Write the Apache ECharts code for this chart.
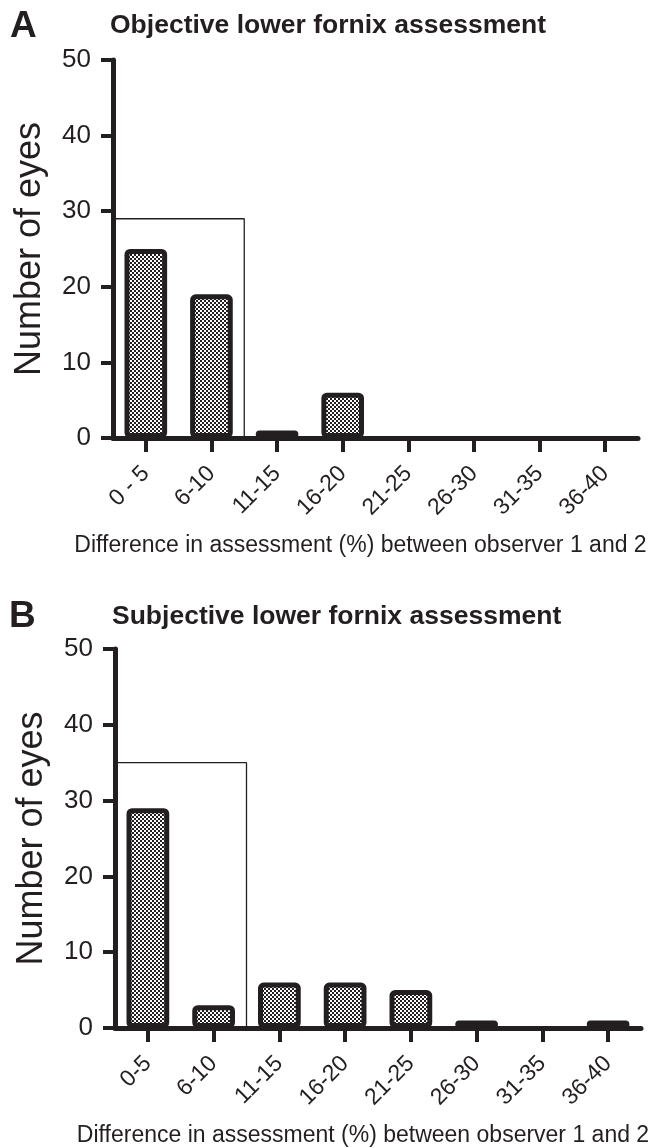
<!DOCTYPE html>
<html>
<head>
<meta charset="utf-8">
<script src="https://cdn.jsdelivr.net/npm/echarts@6/dist/echarts.min.js"></script>
<style>
  html, body { margin: 0; padding: 0; background: #ffffff; }
  #chart { width: 668px; height: 1148px; }
</style>
</head>
<body>
<div id="chart"></div>
<script>
// ---- data ----
const categoriesA = ['0 - 5', '6-10', '11-15', '16-20', '21-25', '26-30', '31-35', '36-40'];
const categoriesB = ['0-5', '6-10', '11-15', '16-20', '21-25', '26-30', '31-35', '36-40'];
const valuesA = [25, 19, 1, 6, 0, 0, 0, 0];
const valuesB = [29, 3, 6, 6, 5, 1, 0, 1];
const yTicks = [0, 10, 20, 30, 40, 50];
const boxHeightA = 29;   // outline box height (number of eyes), panel A
const boxHeightB = 35;   // outline box height, panel B
const boxSpan = 2;       // number of categories covered by the box
const titleA = 'Objective lower fornix assessment';
const titleB = 'Subjective lower fornix assessment';
const yName = 'Number of eyes';
const xName = 'Difference in assessment (%) between observer 1 and 2';

// ---- checker pattern ----
const pat = document.createElement('canvas');
pat.width = 4; pat.height = 4;
const pc = pat.getContext('2d');
pc.fillStyle = '#ffffff'; pc.fillRect(0, 0, 4, 4);
pc.fillStyle = '#231f20';
pc.fillRect(0, 0, 2, 2); pc.fillRect(2, 2, 2, 2);

const ink = '#231f20';
const font = "'Liberation Sans', Arial, sans-serif";

function boxPts(h) { return [[0, 0], [0, h], [boxSpan, h], [boxSpan, 0]]; }
function hideZero(vals) { return vals.map(v => (v === 0 ? '-' : v)); }

function xCat(idx, cats) {
  return {
    type: 'category', gridIndex: idx, data: cats, boundaryGap: true,
    axisLine: { show: true, lineStyle: { color: ink, width: 5 } },
    axisTick: { show: true, alignWithLabel: true, length: 14, lineStyle: { color: ink, width: 4 } },
    axisLabel: { rotate: 45, fontSize: 23, color: ink, fontFamily: font, margin: 32, interval: 0 },
    name: xName, nameLocation: 'middle', nameGap: 96,
    nameTextStyle: { fontSize: 23, color: ink, fontFamily: font, padding: [0, 30, 0, 0] },
    splitLine: { show: false }
  };
}
function xVal(idx) {
  return { type: 'value', gridIndex: idx, min: 0, max: categoriesA.length, show: false };
}
function yAx(idx) {
  return {
    type: 'value', gridIndex: idx, min: yTicks[0], max: yTicks[yTicks.length - 1], interval: 10,
    axisLine: { show: true, lineStyle: { color: ink, width: 5 } },
    axisTick: { show: true, length: 12, lineStyle: { color: ink, width: 4 } },
    axisLabel: { fontSize: 26, color: ink, fontFamily: font, margin: 22 },
    splitLine: { show: false },
    name: yName, nameLocation: 'middle', nameGap: 65,
    nameTextStyle: { fontSize: 36, color: ink, fontFamily: font }
  };
}
function barSeries(xi, yi, vals) {
  return {
    type: 'bar', xAxisIndex: xi, yAxisIndex: yi, data: hideZero(vals), barWidth: '65%',
    itemStyle: { color: { image: pat, repeat: 'repeat' }, borderColor: ink, borderWidth: 5, borderRadius: 3 },
    z: 3
  };
}
function boxSeries(xi, yi, h) {
  return {
    type: 'line', xAxisIndex: xi, yAxisIndex: yi, data: boxPts(h), symbol: 'none',
    lineStyle: { color: ink, width: 1.3 }, z: 2, silent: true
  };
}
function t(text, left, top, size) {
  return { text: text, left: left, top: top, padding: 0,
    textStyle: { fontSize: size, fontWeight: 'bold', color: ink, fontFamily: font } };
}

const chart = echarts.init(document.getElementById('chart'), null, { renderer: 'canvas' });
chart.setOption({
  animation: false,
  backgroundColor: '#ffffff',
  title: [
    t('A', 10, 8, 37),
    t(titleA, 110, 12, 26.5),
    t('B', 9, 598, 37),
    t(titleB, 112, 603, 26.5)
  ],
  grid: [
    { left: 113, top: 60, width: 525, height: 378 },
    { left: 115, top: 649, width: 526, height: 379 }
  ],
  xAxis: [xCat(0, categoriesA), xCat(1, categoriesB), xVal(0), xVal(1)],
  yAxis: [yAx(0), yAx(1)],
  series: [
    boxSeries(2, 0, boxHeightA),
    barSeries(0, 0, valuesA),
    boxSeries(3, 1, boxHeightB),
    barSeries(1, 1, valuesB)
  ]
});
</script>
</body>
</html>
